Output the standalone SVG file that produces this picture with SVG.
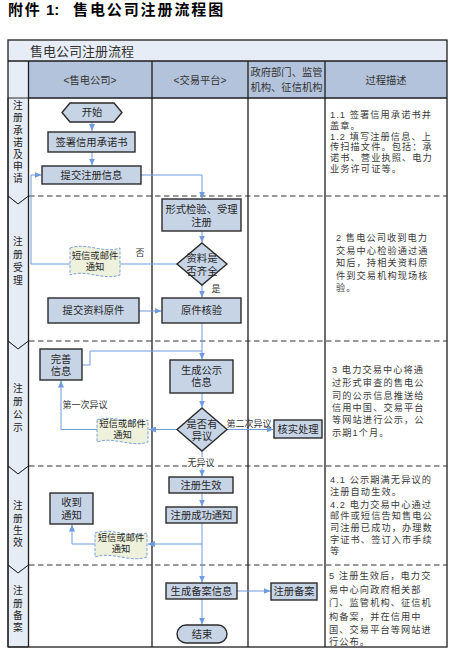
<svg xmlns="http://www.w3.org/2000/svg" width="470" height="665" viewBox="0 0 470 665">
<style>
text{font-family:"Liberation Sans","Noto Sans CJK SC",sans-serif;fill:#262626}
.t{font-size:10.3px;text-anchor:middle;dominant-baseline:central}
.s{font-size:9.3px;text-anchor:middle;dominant-baseline:central}
.lbl{font-size:9px;text-anchor:middle;dominant-baseline:central;fill:#333}
.d{font-size:9.2px;letter-spacing:1.1px;dominant-baseline:central;fill:#3a3a3a}
.h{font-size:10.3px;text-anchor:middle;dominant-baseline:central;fill:#333}
.ln{font-size:9.8px;text-anchor:middle;dominant-baseline:central;fill:#222}
.node{fill:#c7d4e6;stroke:#2b2b2b;stroke-width:1.4}
.doc{fill:#eef1dc;stroke:#7ba2da;stroke-width:1;stroke-dasharray:3 1.5}
.lane{fill:#e6ecf6;stroke:#2b2b2b;stroke-width:1}
.grid{stroke:#1e1e1e;stroke-width:1.3;fill:none}
.dash{stroke:#333;stroke-width:1.2;stroke-dasharray:5.5 3.5;fill:none}
.c{fill:none;stroke:#6f9be0;stroke-width:1}
.a{marker-end:url(#arr)}
</style>
<defs>
<marker id="arr" markerUnits="userSpaceOnUse" markerWidth="7" markerHeight="6" refX="7" refY="3" orient="auto">
<path d="M0,0 L7,3 L0,6 z" fill="#6f9be0"/>
</marker>
</defs>
<rect width="470" height="665" fill="#ffffff"/>
<text x="8" y="9" style="font-size:15px;font-weight:bold;dominant-baseline:central;fill:#000"><tspan x="8" style="letter-spacing:1.7px">附件</tspan><tspan x="46">1:</tspan><tspan x="73" style="letter-spacing:1.9px">售电公司注册流程图</tspan></text>
<g id="frame">
<rect x="8" y="40" width="439" height="21" fill="#e7edf7"/>
<rect x="28.5" y="61" width="418.5" height="37" fill="#b3c3db"/>
<rect x="8" y="61" width="20.5" height="37" fill="#e7edf7"/>
<text x="30" y="51" style="font-size:13px;dominant-baseline:central;fill:#333">售电公司注册流程</text>
<text class="h" x="90" y="80">&lt;售电公司&gt;</text>
<text class="h" x="200" y="80">&lt;交易平台&gt;</text>
<text class="h"><tspan x="286.5" y="72">政府部门、监管</tspan><tspan x="286.5" y="87">机构、征信机构</tspan></text>
<text class="h" x="386" y="80">过程描述</text>
<polygon class="lane" points="8,98 28.5,98 28.5,196 18,204 8,196"/>
<polygon class="lane" points="8,196 18,204 28.5,196 28.5,341 18,349 8,341"/>
<polygon class="lane" points="8,341 18,349 28.5,341 28.5,466 18,474 8,466"/>
<polygon class="lane" points="8,466 18,474 28.5,466 28.5,565 18,573 8,565"/>
<polygon class="lane" points="8,565 18,573 28.5,565 28.5,647 8,647"/>
<line class="dash" x1="29" y1="196" x2="447" y2="196"/>
<line class="dash" x1="29" y1="341" x2="447" y2="341"/>
<line class="dash" x1="29" y1="466" x2="447" y2="466"/>
<line class="dash" x1="29" y1="565" x2="447" y2="565"/>
<rect class="grid" x="8" y="40" width="439" height="607"/>
<line class="grid" x1="8" y1="61" x2="447" y2="61"/>
<line class="grid" x1="28.5" y1="98" x2="447" y2="98"/>
<line class="grid" x1="28.5" y1="61" x2="28.5" y2="647"/>
<line class="grid" x1="152" y1="61" x2="152" y2="647"/>
<line class="grid" x1="248" y1="61" x2="248" y2="647"/>
<line class="grid" x1="325" y1="61" x2="325" y2="647"/>
</g>
<g id="lane-labels">
<text class="ln"><tspan x="18" y="105">注</tspan><tspan x="18" y="117.3">册</tspan><tspan x="18" y="129.5">承</tspan><tspan x="18" y="141.7">诺</tspan><tspan x="18" y="154">及</tspan><tspan x="18" y="166">申</tspan><tspan x="18" y="178.3">请</tspan></text>
<text class="ln"><tspan x="18" y="241">注</tspan><tspan x="18" y="254">册</tspan><tspan x="18" y="267">受</tspan><tspan x="18" y="280">理</tspan></text>
<text class="ln"><tspan x="18" y="388">注</tspan><tspan x="18" y="401">册</tspan><tspan x="18" y="414">公</tspan><tspan x="18" y="427">示</tspan></text>
<text class="ln"><tspan x="18" y="505">注</tspan><tspan x="18" y="517.5">册</tspan><tspan x="18" y="530">生</tspan><tspan x="18" y="542">效</tspan></text>
<text class="ln"><tspan x="18" y="590">注</tspan><tspan x="18" y="602.5">册</tspan><tspan x="18" y="615">备</tspan><tspan x="18" y="627">案</tspan></text>
</g>
<g id="connectors">
<polyline class="c a" points="92,122 92,131"/>
<polyline class="c a" points="92,152 92,165.5"/>
<polyline class="c a" points="141,175 202,175 202,198.5"/>
<polyline class="c a" points="202,231 202,242.5"/>
<polyline class="c a" points="177,264 31,264 31,175 41.5,175"/>
<polyline class="c a" points="202,285 202,297.5"/>
<polyline class="c a" points="139,311 161.5,311"/>
<polyline class="c a" points="202,323 202,359.5"/>
<polyline class="c" points="82,365 90,365 90,351 202,351"/>
<polyline class="c a" points="202,393 202,407.5"/>
<polyline class="c a" points="177,429.5 149,429.5"/>
<polyline class="c a" points="97,429.5 61,429.5 61,380.5"/>
<polyline class="c a" points="227,429.5 273.5,429.5"/>
<polyline class="c a" points="202,451 202,476.5"/>
<polyline class="c a" points="202,493 202,506.5"/>
<polyline class="c a" points="202,523 202,582.5"/>
<polyline class="c a" points="202,544 148,544"/>
<polyline class="c a" points="95,544 72,544 72,524.5"/>
<polyline class="c a" points="237,591 270.5,591"/>
<polyline class="c a" points="202,599 202,624.5"/>
</g>
<g id="edge-labels">
<text class="lbl" x="140" y="253">否</text>
<text class="lbl" x="216" y="289">是</text>
<text class="lbl" x="85" y="405">第一次异议</text>
<text class="lbl" x="249" y="424">第二次异议</text>
<rect x="187" y="457" width="28" height="11" fill="#ffffff"/>
<text class="lbl" x="201" y="463">无异议</text>
</g>
<g id="n-start"><polygon class="node" points="70,103 114,103 122,112.5 114,122 70,122 62,112.5"/><text class="t" x="92" y="112.5">开始</text></g>
<g id="n-sign"><rect class="node" x="48" y="132" width="87" height="20"/><text class="t" x="91.5" y="142">签署信用承诺书</text></g>
<g id="n-submit"><rect class="node" x="42" y="166" width="99" height="18"/><text class="t" x="91.5" y="175">提交注册信息</text></g>
<g id="n-check"><rect class="node" x="162" y="199" width="79" height="32"/><text class="t"><tspan x="201.5" y="208.5">形式检验、受理</tspan><tspan x="201.5" y="222">注册</tspan></text></g>
<g id="n-complete"><polygon class="node" points="202,243 227,264 202,285 177,264"/><text class="t"><tspan x="202" y="257.5">资料是</tspan><tspan x="202" y="270.5">否齐全</tspan></text></g>
<g id="n-notice1"><path class="doc" d="M70,248 C86.7,242 103.3,254 120,248 L120,275 C103.3,281 86.7,269 70,275 Z"/><text class="s"><tspan x="95" y="255.5">短信或邮件</tspan><tspan x="95" y="266.5">通知</tspan></text></g>
<g id="n-orig-submit"><rect class="node" x="48" y="298" width="91" height="25"/><text class="t" x="93.5" y="310.5">提交资料原件</text></g>
<g id="n-orig-check"><rect class="node" x="162" y="298" width="79" height="25"/><text class="t" x="201.5" y="310.5">原件核验</text></g>
<g id="n-perfect"><rect class="node" x="40" y="349" width="42" height="31"/><text class="t"><tspan x="61" y="358.5">完善</tspan><tspan x="61" y="371">信息</tspan></text></g>
<g id="n-genpub"><rect class="node" x="170" y="360" width="63" height="33"/><text class="t"><tspan x="201.5" y="369.5">生成公示</tspan><tspan x="201.5" y="382">信息</tspan></text></g>
<g id="n-objection"><polygon class="node" points="202,408 227,429.5 202,451 177,429.5"/><text class="t"><tspan x="202" y="423.5">是否有</tspan><tspan x="202" y="435.5">异议</tspan></text></g>
<g id="n-notice2"><path class="doc" d="M97,420 C114,414 131,426 148,420 L148,442 C131,448 114,436 97,442 Z"/><text class="s"><tspan x="122.5" y="423.5">短信或邮件</tspan><tspan x="122.5" y="434.5">通知</tspan></text></g>
<g id="n-verify"><rect class="node" x="274" y="420" width="48" height="18"/><text class="t" x="298" y="429">核实处理</text></g>
<g id="n-effect"><rect class="node" x="169" y="477" width="64" height="16"/><text class="t" x="201" y="485">注册生效</text></g>
<g id="n-success"><rect class="node" x="166" y="507" width="71" height="16"/><text class="t" x="201.5" y="515">注册成功通知</text></g>
<g id="n-receive"><rect class="node" x="50" y="493" width="43" height="31"/><text class="t"><tspan x="71.5" y="502">收到</tspan><tspan x="71.5" y="515">通知</tspan></text></g>
<g id="n-notice3"><path class="doc" d="M95,533 C112.3,527 129.7,539 147,533 L147,557 C129.7,563 112.3,551 95,557 Z"/><text class="s"><tspan x="121" y="537.5">短信或邮件</tspan><tspan x="121" y="549">通知</tspan></text></g>
<g id="n-genrec"><rect class="node" x="166" y="583" width="71" height="16"/><text class="t" x="201.5" y="591">生成备案信息</text></g>
<g id="n-record"><rect class="node" x="271" y="583" width="46" height="17"/><text class="t" x="294" y="591.5">注册备案</text></g>
<g id="n-end"><rect class="node" x="177" y="625" width="50" height="18" rx="9" ry="9"/><text class="t" x="202" y="634">结束</text></g>
<g id="descriptions">
<text class="d"><tspan x="330" y="115">1.1 签署信用承诺书并</tspan><tspan x="330" y="125.8">盖章。</tspan><tspan x="330" y="136.6">1.2 填写注册信息、上</tspan><tspan x="330" y="147.4">传扫描文件。包括：承</tspan><tspan x="330" y="158.2">诺书、营业执照、电力</tspan><tspan x="330" y="169">业务许可证等。</tspan></text>
<text class="d"><tspan x="336" y="238">2 售电公司收到电力</tspan><tspan x="336" y="250.5">交易中心检验通过通</tspan><tspan x="336" y="263">知后，持相关资料原</tspan><tspan x="336" y="275.5">件到交易机构现场核</tspan><tspan x="336" y="288">验。</tspan></text>
<text class="d"><tspan x="332" y="369.5">3 电力交易中心将通</tspan><tspan x="332" y="382.5">过形式审查的售电公</tspan><tspan x="332" y="395.5">司的公示信息推送给</tspan><tspan x="332" y="407.5">信用中国、交易平台</tspan><tspan x="332" y="419.5">等网站进行公示，公</tspan><tspan x="332" y="432.5">示期1个月。</tspan></text>
<text class="d"><tspan x="330" y="480">4.1 公示期满无异议的</tspan><tspan x="330" y="492">注册自动生效。</tspan><tspan x="330" y="504.5">4.2 电力交易中心通过</tspan><tspan x="330" y="516">邮件或短信告知售电公</tspan><tspan x="330" y="528">司注册已成功，办理数</tspan><tspan x="330" y="539.5">字证书、签订入市手续</tspan><tspan x="330" y="551">等</tspan></text>
<text class="d"><tspan x="329" y="576">5 注册生效后，电力交</tspan><tspan x="329" y="590">易中心向政府相关部</tspan><tspan x="329" y="603">门、监管机构、征信机</tspan><tspan x="329" y="616.5">构备案，并在信用中</tspan><tspan x="329" y="629.5">国、交易平台等网站进</tspan><tspan x="329" y="642">行公布。</tspan></text>
</g>
</svg>
